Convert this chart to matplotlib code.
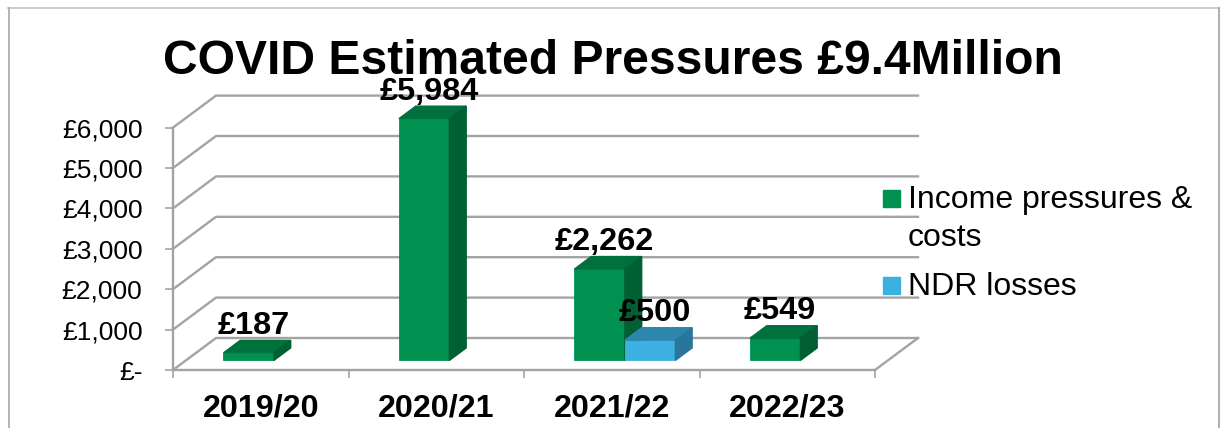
import matplotlib.pyplot as plt
from matplotlib.patches import Polygon, Rectangle

plt.rcParams['font.family'] = ['Liberation Sans', 'DejaVu Sans']

years = ["2019/20", "2020/21", "2021/22", "2022/23"]
income_costs = [187, 5984, 2262, 549]
ndr_losses = [0, 0, 500, 0]
value_ticks = [0, 1000, 2000, 3000, 4000, 5000, 6000]
value_labels = ["£-", "£1,000", "£2,000", "£3,000", "£4,000", "£5,000", "£6,000"]

GRID = "#a3a3a3"
GREEN = "#009150"
BLUE = "#3cb0e0"
# size of the fake 3d depth, in data units
DEPTH_X = 0.245
DEPTH_Y = 792
BAR_W = 0.2875
BAR_START = 0.214
D_FRONT = 0.30
D_BACK = 0.69

W, H = 1226, 428
fig = plt.figure(figsize=[W / 100, H / 100], dpi=100)
ax = fig.add_axes([173 / W, (H - 370) / H, 702 / W, 242.4 / H])
ax.set_xlim(0, 4)
ax.set_ylim(0, 6000)


def proj(x, v, d):
    return (x + d * DEPTH_X, v + d * DEPTH_Y)


def draw_bar(x, v, front, top, side):
    fx, fy = proj(x, 0, D_FRONT)
    ax.bar(fx, v, BAR_W, bottom=fy, align="edge", color=front, edgecolor=front,
           linewidth=0.6, zorder=3, clip_on=False)
    top_pts = [proj(x, v, D_FRONT), proj(x + BAR_W, v, D_FRONT),
               proj(x + BAR_W, v, D_BACK), proj(x, v, D_BACK)]
    side_pts = [proj(x + BAR_W, 0, D_FRONT), proj(x + BAR_W, v, D_FRONT),
                proj(x + BAR_W, v, D_BACK), proj(x + BAR_W, 0, D_BACK)]
    ax.add_patch(Polygon(top_pts, color=top, zorder=3, clip_on=False))
    ax.add_patch(Polygon(side_pts, color=side, zorder=3, clip_on=False))


def value_label(x, v):
    cx, cy = proj(x + BAR_W / 2, v, D_BACK)
    ax.annotate("£{:,}".format(v), (cx, cy), xytext=(-8.5, 4.8), textcoords="offset points",
                ha="center", va="baseline", fontsize=23.4, fontweight="bold",
                color="black", zorder=6, annotation_clip=False)


# walls and floor
for v in value_ticks:
    x0, y0 = proj(0, v, 0)
    x1, y1 = proj(0, v, 1)
    x2, y2 = proj(4, v, 1)
    ax.plot([x0, x1, x2], [y0, y1, y2], color=GRID, lw=1.7, zorder=1, clip_on=False)
x0, y0 = proj(4, 0, 0)
x1, y1 = proj(4, 0, 1)
ax.plot([x0, x1], [y0, y1], color=GRID, lw=1.7, zorder=1, clip_on=False)

for i in range(len(years)):
    if income_costs[i] > 0:
        draw_bar(i + BAR_START, income_costs[i], GREEN, "#00703d", "#005f33")
        value_label(i + BAR_START, income_costs[i])
    if ndr_losses[i] > 0:
        draw_bar(i + BAR_START + BAR_W, ndr_losses[i], BLUE, "#2d86ad", "#29769a")
        value_label(i + BAR_START + BAR_W, ndr_losses[i])

ax.spines["top"].set_visible(False)
ax.spines["right"].set_visible(False)
ax.spines["left"].set_color(GRID)
ax.spines["bottom"].set_color(GRID)
ax.spines["left"].set_linewidth(1.7)
ax.spines["bottom"].set_linewidth(1.7)

ax.set_yticks(value_ticks)
ax.set_yticklabels(value_labels, fontsize=19)
ax.tick_params(axis="y", color=GRID, length=6, width=1.2, pad=16)
ax.set_xticks([0, 1, 2, 3, 4], minor=True)
ax.tick_params(axis="x", which="minor", color=GRID, length=6, width=1.2)
ax.set_xticks([i + 0.5 for i in range(4)])
ax.set_xticklabels(years, fontsize=23.2, fontweight="bold")
ax.tick_params(axis="x", which="major", length=0, pad=17)

fig.text(612.5 / W, (H - 74) / H, "COVID Estimated Pressures £9.4Million", ha="center",
         va="baseline", fontsize=34.6, fontweight="bold")

# legend, first line of each entry sits next to its swatch
fig.add_artist(Rectangle((883 / W, (H - 207) / H), 17 / W, 17 / H, color=GREEN,
                         transform=fig.transFigure))
fig.add_artist(Rectangle((883 / W, (H - 294) / H), 17 / W, 17 / H, color=BLUE,
                         transform=fig.transFigure))
fig.text(908 / W, (H - 208) / H, "Income pressures &", fontsize=23, va="baseline")
fig.text(908 / W, (H - 246) / H, "costs", fontsize=23, va="baseline")
fig.text(908 / W, (H - 295) / H, "NDR losses", fontsize=23, va="baseline")

# outer frame of the slide
fig.add_artist(plt.Line2D([8 / W, 1218.5 / W], [(H - 8) / H, (H - 8) / H], color="#c4c4c4", lw=1.2))
fig.add_artist(plt.Line2D([8.5 / W, 8.5 / W], [0, (H - 8) / H], color="#a8a8a8", lw=1.2))
fig.add_artist(plt.Line2D([1218.5 / W, 1218.5 / W], [0, (H - 8) / H], color="#a0a0a0", lw=1.2))

plt.savefig("out.png", dpi=100)
